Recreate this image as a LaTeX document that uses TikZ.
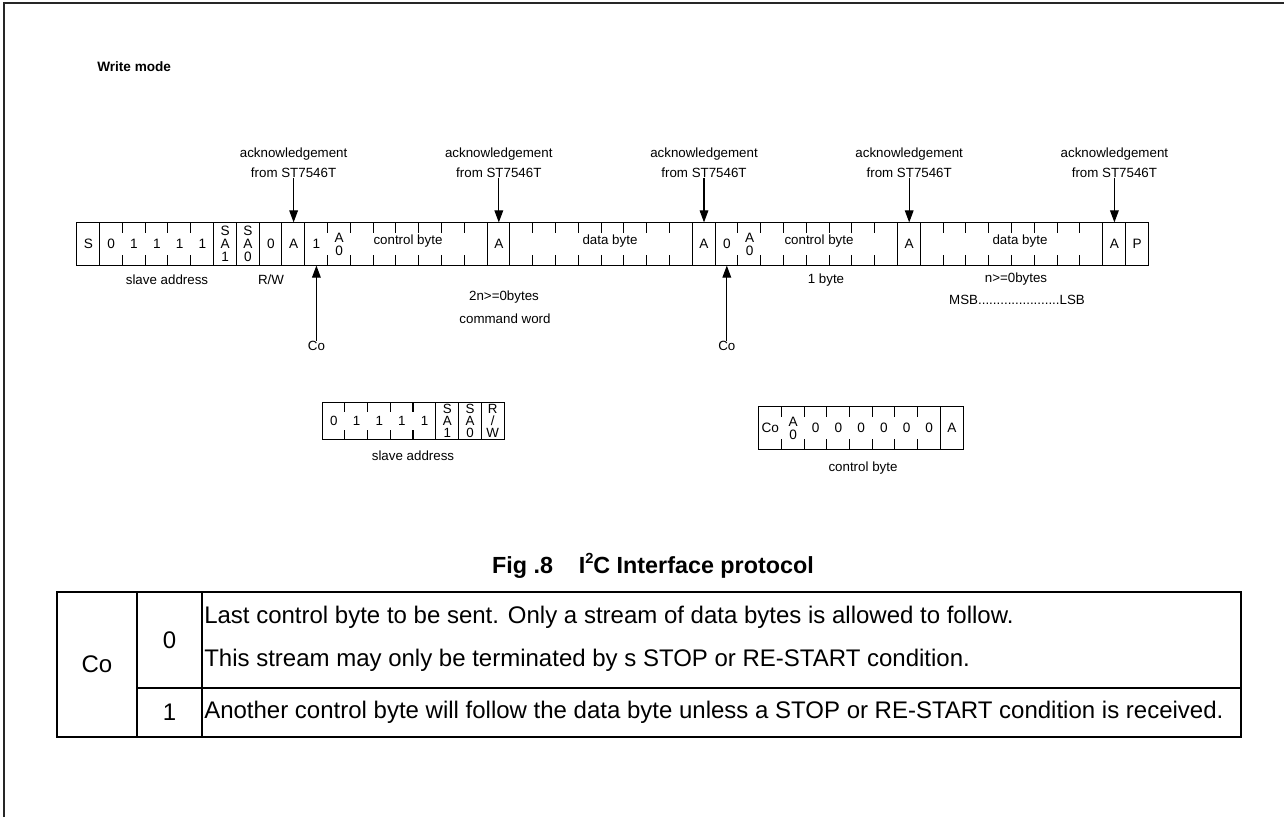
\documentclass[tikz,border=0pt]{standalone}
\usepackage{fontspec}
\setmainfont{Liberation Sans}
\usetikzlibrary{arrows.meta}

\begin{document}
\begin{tikzpicture}[x=0.75pt, y=-0.75pt,
    cell/.style = {minimum width=17.1pt, minimum height=32pt, inner sep=0pt, align=center, font=\fontsize{10.2}{9.8}\selectfont},
    lbl/.style = {inner sep=0pt, align=center, font=\fontsize{10}{15}\selectfont},
    tbl/.style = {inner sep=0pt, font=\fontsize{18}{20}\selectfont},
    ack/.style = {-{Triangle[length=9pt, width=6.5pt]}, line width=0.8pt}]
    \useasboundingbox (0,0) rectangle (1284,817);
    \draw[line width=1.6pt, black!85] (4,817) -- (4,3) -- (1284,3);

    \node[anchor=west, inner sep=0pt, font=\bfseries\fontsize{10.2}{12}\selectfont] (mode) at (97,67) {Write mode};

    % main frame
    \foreach \t [count=\i from 0] in {S,0,1,1,1,1,{S\\A\\1},{S\\A\\0},0,A,1,{A\\0},,,,,,,A,,,,,,,,,A,0,{A\\0},,,,,,,A,,,,,,,,,A,P}
        \node[cell] (c\i) at ({77+(\i+0.5)*22.8},244) {\t};
    \draw[line width=0.8pt] (c0.north west) rectangle (c46.south east);
    \foreach \i in {1,6,7,8,9,10,18,19,27,28,36,37,45,46}
        \draw[line width=0.8pt] (c\i.north west) -- (c\i.south west);
    \foreach \a/\b in {2/5,11/17,20/26,29/35,38/44}
        \foreach \i in {\a,...,\b}
            \draw[line width=0.8pt] (c\i.north west) -- ++(0,10.5) (c\i.south west) -- ++(0,-10.5);

    \node[lbl] (cb1) at (408,241) {control byte};
    \node[lbl] (db1) at (610,241) {data byte};
    \node[lbl] (cb2) at (819,241) {control byte};
    \node[lbl] (db2) at (1020,241) {data byte};

    \node[lbl] (sa) at (167,280) {slave address};
    \node[lbl] (rw) at (271,280) {R/W};
    \node[lbl] (n2) at (504,297) {2n>=0bytes};
    \node[lbl] (cw) at (505,319) {command word};
    \node[lbl] (one) at (826,280) {1 byte};
    \node[lbl] (n1) at (1016,279) {n>=0bytes};
    \node[lbl] (msb) at (1017,300) {MSB......................LSB};

    % acknowledgements and Co
    \foreach \i in {9,18,27,36,45} {
        \path (c\i.north) ++(0,-60) node[lbl] (ack\i) {acknowledgement\\from ST7546T};
        \draw[ack] (ack\i.south) -- (c\i.north);
    }
    \foreach \i in {10,28} {
        \path (c\i.south) ++(0,80) node[lbl] (co\i) {Co};
        \draw[ack] (co\i.north) -- (c\i.south);
    }

    % slave address detail
    \foreach \t [count=\i from 0] in {0,1,1,1,1,{S\\A\\1},{S\\A\\0},{R\\/\\W}}
        \node[cell, minimum height=27pt, font=\fontsize{10}{9}\selectfont] (s\i) at ({322.5+(\i+0.5)*22.7},421) {\t};
    \draw[line width=0.8pt] (s0.north west) rectangle (s7.south east);
    \foreach \i in {5,6,7}
        \draw[line width=0.8pt] (s\i.north west) -- (s\i.south west);
    \foreach \i in {1,...,4}
        \draw[line width=0.8pt] (s\i.north west) -- ++(0,9) (s\i.south west) -- ++(0,-9);
    \node[lbl] (sal) at (413,456) {slave address};

    % control byte detail
    \foreach \t [count=\i from 0] in {Co,{A\\0},0,0,0,0,0,0,A}
        \node[cell] (k\i) at ({759+(\i+0.5)*22.7},428) {\t};
    \draw[line width=0.8pt] (k0.north west) rectangle (k8.south east);
    \draw[line width=0.8pt] (k8.north west) -- (k8.south west);
    \foreach \i in {1,...,7}
        \draw[line width=0.8pt] (k\i.north west) -- ++(0,10.5) (k\i.south west) -- ++(0,-10.5);
    \node[lbl] (cbl) at (863,468) {control byte};

    \node[inner sep=0pt, font=\bfseries\fontsize{17.5}{20}\selectfont] (title) at (653,566) {Fig .8\hspace{1.1em}I\raisebox{0.45em}{\fontsize{11}{12}\selectfont 2}C Interface protocol};

    % table
    \draw[line width=1.5pt] (57,591.5) rectangle (1241,737);
    \draw[line width=1.5pt] (137,591.5) -- (137,737) (202,591.5) -- (202,737) (137,687.5) -- (1241,687.5);
    \node[tbl] (co) at (97,664) {Co};
    \node[tbl] (v0) at (169.5,640) {0};
    \node[tbl] (v1) at (169.5,712) {1};
    \node[tbl, anchor=west] (t1) at (204,617) {Last control byte to be sent. Only a stream of data bytes is allowed to follow.};
    \node[tbl, anchor=west] (t2) at (204,660) {This stream may only be terminated by s STOP or RE-START condition.};
    \node[tbl, anchor=west] (t3) at (204,712) {Another control byte will follow the data byte unless a STOP or RE-START condition is received.};
\end{tikzpicture}
\end{document}
